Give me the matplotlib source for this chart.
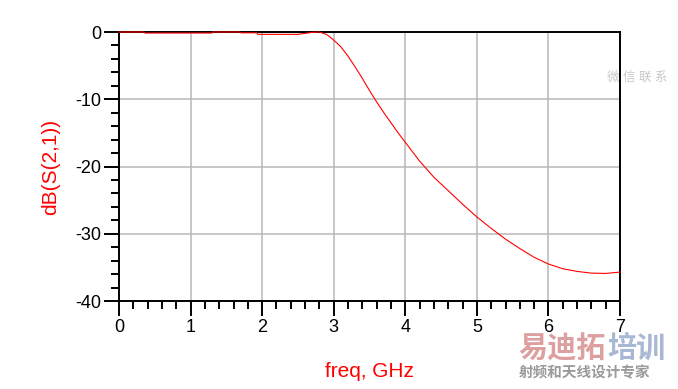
import matplotlib.pyplot as plt
from matplotlib.ticker import MultipleLocator

# S21 magnitude
freq_ghz = [0, 0.35, 0.36, 1.3, 1.31, 1.69, 1.7, 1.93, 1.94, 2.5, 2.6, 2.7, 2.8, 2.9,
            3.0, 3.1, 3.2, 3.3, 3.4, 3.5, 3.6, 3.7, 3.8, 3.9, 4.0, 4.2, 4.4, 4.6,
            4.8, 5.0, 5.2, 5.4, 5.6, 5.8, 6.0, 6.2, 6.4, 6.6, 6.8, 7.0]
s21_db = [0, 0, -0.15, -0.15, 0, 0, -0.12, -0.12, -0.35, -0.35, -0.2, -0.05, 0, -0.35,
          -1.2, -2.2, -3.6, -5.2, -6.9, -8.7, -10.4, -12.0, -13.5, -15.0, -16.4,
          -19.2, -21.6, -23.6, -25.6, -27.5, -29.2, -30.8, -32.2, -33.5, -34.5,
          -35.2, -35.6, -35.85, -35.9, -35.7]

x_ticks = [0, 1, 2, 3, 4, 5, 6, 7]
y_ticks = [-40, -30, -20, -10, 0]

plt.rcParams['font.family'] = ['Liberation Sans', 'Noto Sans CJK SC', 'DejaVu Sans']
plt.rcParams['axes.unicode_minus'] = False

fig = plt.figure(figsize=(6.78, 3.89), dpi=100)
ax = fig.add_axes([0.1755, 0.2262, 0.739, 0.6915])

ax.plot(freq_ghz, s21_db, color='#ff0000', lw=0.8, zorder=3, clip_on=False)

ax.set_xlim(0, 7)
ax.set_ylim(-40, 0)
ax.set_xticks(x_ticks)
ax.set_yticks(y_ticks)
ax.xaxis.set_minor_locator(MultipleLocator(0.2))
ax.yaxis.set_minor_locator(MultipleLocator(2))

ax.grid(True, which='major', color='#b8b8b8', lw=1.1)
ax.set_axisbelow(True)
for side in ['top', 'bottom', 'left', 'right']:
    ax.spines[side].set_linewidth(1.4)
    ax.spines[side].set_color('black')

ax.tick_params(which='major', direction='out', length=11, width=1.4,
               labelsize=13, pad=2, colors='black')
ax.tick_params(which='minor', direction='out', length=5.5, width=1.4)

ax.set_xlabel('freq, GHz', color='#ff0000', fontsize=15, labelpad=19)
ax.set_ylabel('dB(S(2,1))', color='#ff0000', fontsize=15, labelpad=11)

# watermarks
fig.text(0.985, 0.80, '微 信 联 系', color='#c8c8c8', fontsize=9, ha='right', va='center')
fig.text(0.765, 0.103, '易迪拓', color='#dca0a0', fontsize=21, fontweight='bold',
         ha='left', va='center')
fig.text(0.895, 0.103, '培训', color='#a8b8d4', fontsize=21, fontweight='bold',
         ha='left', va='center')
fig.text(0.765, 0.04, '射频和天线设计专家', color='#9a9a9a', fontsize=10.5,
         fontweight='bold', ha='left', va='center')

fig.savefig('out.png', dpi=100)
